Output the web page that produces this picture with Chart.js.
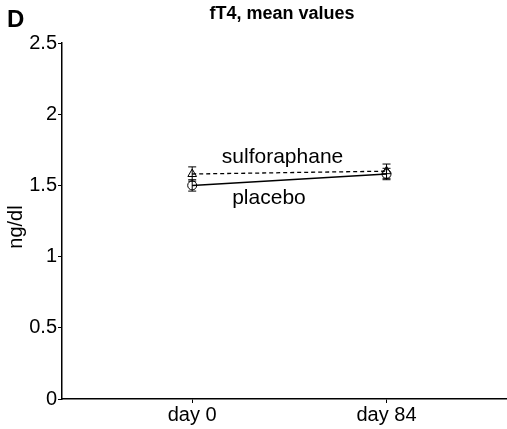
<!DOCTYPE html>
<html><head><meta charset="utf-8">
<script src="https://cdn.jsdelivr.net/npm/chart.js@4"></script>
<style>html,body{margin:0;padding:0;background:#fff;overflow:hidden}canvas{display:block}</style>
</head><body>
<canvas id="c" width="507" height="429"></canvas>
<script>
const categories = ['day 0', 'day 84'];
const placebo = [1.50, 1.58];
const placeboErr = [0.04, 0.04];
const sulforaphane = [1.58, 1.60];
const sulforaphaneErr = [0.05, 0.05];
const yTicks = [0, 0.5, 1, 1.5, 2, 2.5];

const FONT = "'Liberation Sans', Arial, sans-serif";

const stretch = {
  id: 'stretch',
  afterLayout(chart) {
    const s = chart.scales.x;
    const R = chart.width;
    s.right = R; s.width = R - s.left;
    s.configure();
    chart.chartArea.right = R;
    chart.chartArea.width = R - chart.chartArea.left;
  }
};

const extras = {
  id: 'extras',
  afterDatasetsDraw(chart) {
    const ctx = chart.ctx, xs = chart.scales.x, ys = chart.scales.y;
    ctx.save();
    ctx.strokeStyle = '#000'; ctx.lineWidth = 1;
    const errs = [placeboErr, sulforaphaneErr];
    const vals = [placebo, sulforaphane];
    for (let d = 0; d < 2; d++) {
      for (let i = 0; i < categories.length; i++) {
        const x = xs.getPixelForValue(i);
        const top = ys.getPixelForValue(vals[d][i] + errs[d][i]);
        const bot = ys.getPixelForValue(vals[d][i] - errs[d][i]);
        ctx.beginPath();
        ctx.moveTo(x, top); ctx.lineTo(x, bot);
        ctx.moveTo(x - 4, top); ctx.lineTo(x + 4, top);
        ctx.moveTo(x - 4, bot); ctx.lineTo(x + 4, bot);
        ctx.stroke();
      }
    }
    ctx.fillStyle = '#000';
    ctx.font = '21px ' + FONT;
    ctx.textAlign = 'center'; ctx.textBaseline = 'middle';
    ctx.fillText('sulforaphane', xs.getPixelForValue(0.465), ys.getPixelForValue(1.70));
    ctx.fillText('placebo', xs.getPixelForValue(0.395), ys.getPixelForValue(1.41));
    ctx.font = 'bold 18px ' + FONT;
    ctx.fillText('fT4, mean values', 282, 14);
    ctx.font = 'bold 24px ' + FONT;
    ctx.textAlign = 'left';
    ctx.fillText('D', 7, 20);
    ctx.save();
    ctx.translate(16, 227);
    ctx.rotate(-Math.PI / 2);
    ctx.textAlign = 'center';
    ctx.font = '20px ' + FONT;
    ctx.fillText('ng/dl', 0, 0);
    ctx.restore();
    ctx.restore();
  }
};

new Chart(document.getElementById('c'), {
  type: 'line',
  data: {
    datasets: [
      { label: 'sulforaphane', data: sulforaphane.map((v, i) => ({x: i, y: v})),
        borderColor: '#000', borderWidth: 1.3, borderDash: [4, 3], pointStyle: 'triangle',
        pointRadius: 5, pointBackgroundColor: 'rgba(0,0,0,0)', pointBorderColor: '#000', pointBorderWidth: 1 },
      { label: 'placebo', data: placebo.map((v, i) => ({x: i, y: v})),
        borderColor: '#000', borderWidth: 1.5, pointStyle: 'circle',
        pointRadius: 4.5, pointBackgroundColor: 'rgba(0,0,0,0)', pointBorderColor: '#000', pointBorderWidth: 1 }
    ]
  },
  options: {
    responsive: false, animation: false,
    layout: { padding: { top: 43, right: 0, left: 0, bottom: 0 } },
    plugins: { legend: { display: false }, tooltip: { enabled: false }, title: { display: false } },
    scales: {
      x: {
        type: 'linear', min: -0.67, max: 1.62,
        afterBuildTicks: s => { s.ticks = categories.map((c, i) => ({value: i})); },
        afterFit: s => { s.height = 30; },
        grid: { display: true, drawOnChartArea: false, drawTicks: true, tickLength: 4, color: '#000' },
        border: { color: '#000', width: 1.5 },
        ticks: { color: '#000', font: { family: FONT, size: 20 }, padding: 0,
          callback: v => categories[v] ?? '' }
      },
      y: {
        min: 0, max: 2.5,
        afterBuildTicks: s => { s.ticks = yTicks.map(v => ({value: v})); },
        afterFit: s => { s.width = 62; },
        grid: { display: true, drawOnChartArea: false, drawTicks: true, tickLength: 4, color: '#000' },
        border: { color: '#000', width: 1.5 },
        ticks: { color: '#000', font: { family: FONT, size: 20 }, padding: 1, callback: v => String(v) },
        title: { display: false }
      }
    }
  },
  plugins: [stretch, extras]
});
</script>
</body></html>
